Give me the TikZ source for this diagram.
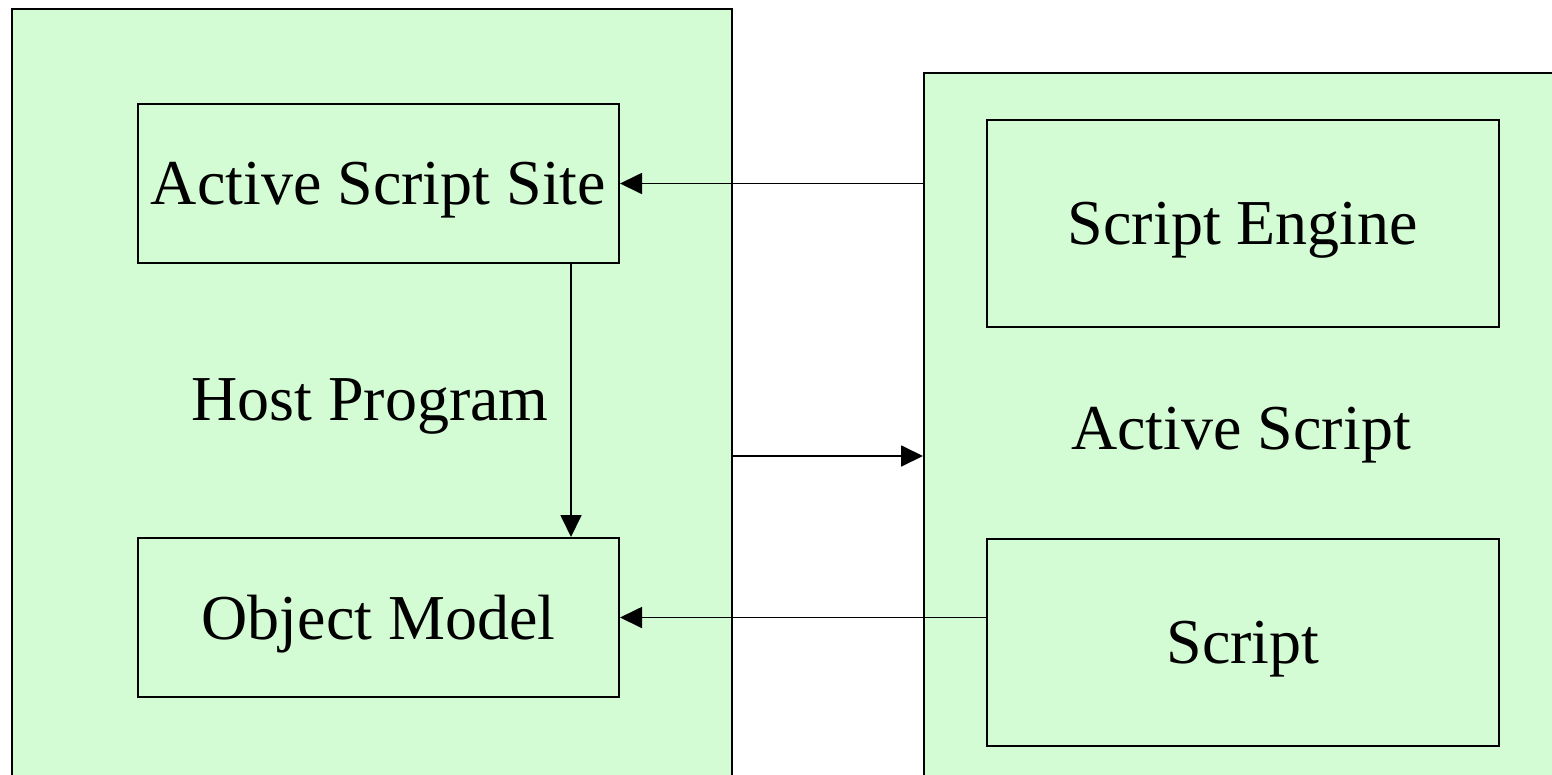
\documentclass[tikz,border=0pt]{standalone}
\usepackage{fontspec}
\setmainfont{Liberation Serif}
\usetikzlibrary{positioning}
\usetikzlibrary{arrows.meta}
\definecolor{panelgreen}{RGB}{212,252,212}

\begin{document}
\begin{tikzpicture}[x=1pt,y=-1pt,
      panel/.style = {draw, line width=2pt, fill=panelgreen,
         anchor=north west, inner sep=0pt},
      part/.style = {draw, line width=2pt, fill=panelgreen, inner sep=0pt},
      call/.style = {line width=1.8pt, -{Triangle[length=22pt,width=21pt]}},
      font=\fontsize{64}{70}\selectfont, text depth=0pt
]

   \clip (0,0) rectangle (1552,774);

   % the two outer panels
   \node[panel, minimum width=720pt, minimum height=790pt] (host)    at (11,8)   {};
   \node[panel, minimum width=660pt, minimum height=730pt] (ascript) at (923,72) {};

   % host program side
   \node[part, minimum width=481pt, minimum height=159pt] (site) at (378.5,183.5)
      {Active Script Site};
   \node[part, minimum width=481pt, minimum height=159pt, below=273pt of site] (objmodel)
      {Object Model};
   \node (hostlbl) at (370,400) {Host Program};

   % active script side
   \node[part, minimum width=512pt, minimum height=207pt] (engine) at (1243,223.5)
      {Script Engine};
   \node[part, minimum width=512pt, minimum height=207pt, below=210pt of engine] (script)
      {Script};
   \node (ascriptlbl) at (1241,428) {Active Script};

   % calls
   \draw[call] (ascript.west |- site.east) -- (site.east);
   \draw[call] ([xshift=192.5pt]site.south) -- ([xshift=192.5pt]objmodel.north);
   \draw[call] (host.east |- 0,456) -- (ascript.west |- 0,456);
   \draw[call] (script.west |- objmodel.east) -- (objmodel.east);

\end{tikzpicture}
\end{document}
